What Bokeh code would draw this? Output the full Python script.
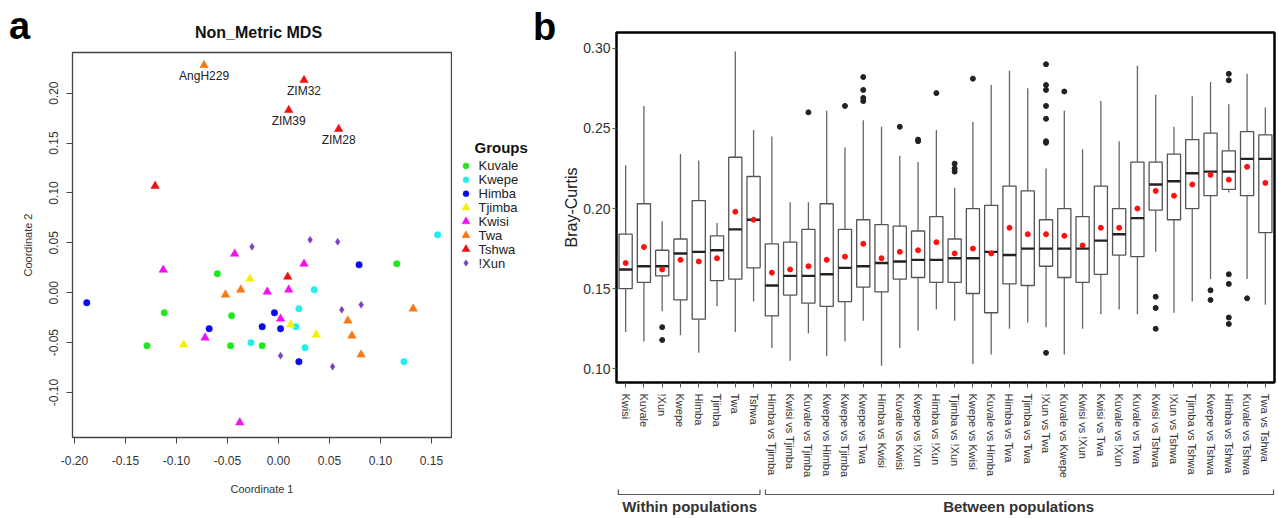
from bokeh.plotting import figure
from bokeh.models import (Range1d, FactorRange, FixedTicker, PrintfTickFormatter,
                          ColumnDataSource, LabelSet)
from bokeh.layouts import row, column
from bokeh.embed import file_html
from bokeh.resources import INLINE
from bokeh.core.properties import value

FONT = "Liberation Sans"

# ---------------- Panel a : Non-metric MDS ----------------
groups = ["Kuvale", "Kwepe", "Himba", "Tjimba", "Kwisi", "Twa", "Tshwa", "!Xun"]

kuvale_x = [-0.060, 0.116, -0.112, -0.046, -0.129, -0.047, -0.016]
kuvale_y = [0.019, 0.029, -0.020, -0.023, -0.053, -0.053, -0.053]
kwepe_x = [0.156, 0.035, 0.020, 0.017, -0.027, 0.026, 0.123]
kwepe_y = [0.058, 0.003, -0.016, -0.034, -0.050, -0.055, -0.069]
himba_x = [0.079, -0.188, -0.004, -0.068, -0.016, 0.002, 0.020]
himba_y = [0.028, -0.010, -0.020, -0.036, -0.034, -0.036, -0.069]
tjimba_x = [-0.028, 0.012, 0.037, -0.093]
tjimba_y = [0.014, -0.032, -0.042, -0.052]
kwisi_x = [-0.043, -0.113, 0.025, -0.011, 0.010, 0.002, -0.072, -0.038]
kwisi_y = [0.039, 0.023, 0.029, 0.001, 0.003, -0.026, -0.045, -0.130]
twa_x = [-0.073, -0.052, -0.037, 0.132, 0.068, 0.072, 0.081]
twa_y = [0.228, -0.002, 0.003, -0.016, -0.028, -0.043, -0.062]
tshwa_x = [0.025, 0.010, 0.059, -0.121, 0.009]
tshwa_y = [0.213, 0.183, 0.164, 0.107, 0.016]
xun_x = [0.031, 0.058, -0.026, 0.062, 0.081, 0.002, 0.053]
xun_y = [0.053, 0.051, 0.046, -0.017, -0.012, -0.063, -0.074]

point_names = ["AngH229", "ZIM32", "ZIM39", "ZIM28"]
point_names_x = [-0.073, 0.025, 0.010, 0.059]
point_names_y = [0.228, 0.213, 0.183, 0.164]

mds_x_ticks = [-0.20, -0.15, -0.10, -0.05, 0.00, 0.05, 0.10, 0.15]
mds_y_ticks = [-0.10, -0.05, 0.00, 0.05, 0.10, 0.15, 0.20]

group_x = [kuvale_x, kwepe_x, himba_x, tjimba_x, kwisi_x, twa_x, tshwa_x, xun_x]
group_y = [kuvale_y, kwepe_y, himba_y, tjimba_y, kwisi_y, twa_y, tshwa_y, xun_y]
group_colors = ["#1ee81e", "#22eeee", "#0a0aee", "#f2f200", "#f010f0", "#f57a14", "#ee1111", "#7e3fc4"]
group_markers = ["circle", "circle", "circle", "triangle", "triangle", "triangle", "triangle", "diamond"]
group_sizes = [6.5, 6.5, 6.5, 8.5, 8.5, 8.5, 8.5, 7]

TOTAL_H = 516


def blank(width, height, xr, yr):
    f = figure(width=width, height=height, title=None,
               x_range=Range1d(*xr), y_range=Range1d(*yr),
               output_backend="svg", toolbar_location=None,
               x_axis_location=None, y_axis_location=None, min_border=0)
    f.grid.visible = False
    f.outline_line_color = None
    f.background_fill_color = "white"
    f.border_fill_color = "white"
    return f


# header with panel letter and title (pixel layout coordinates, y downwards)
H1 = 50
h1 = blank(530, H1, (0, 530), (H1, 0))
h1.text(x=[8.5], y=[25], text=["a"], text_font=value(FONT), text_font_style="bold",
        text_font_size="38px", text_baseline="middle", text_align="left", text_color="black")
h1.text(x=[258], y=[32], text=["Non_Metric MDS"], text_font=value(FONT), text_font_style="bold",
        text_font_size="16px", text_baseline="middle", text_align="center", text_color="#111111")

p1 = figure(width=452, height=TOTAL_H - H1, title=None,
            x_range=Range1d(-0.202, 0.1696), y_range=Range1d(-0.145, 0.2407),
            output_backend="svg", toolbar_location=None,
            min_border_left=72, min_border_right=1, min_border_top=2, min_border_bottom=79)
p1.grid.visible = False
p1.outline_line_color = "#444444"
p1.outline_line_width = 1.3
p1.background_fill_color = "white"
p1.border_fill_color = "white"

for g, xs, ys, c, m, s in zip(groups, group_x, group_y, group_colors, group_markers, group_sizes):
    p1.scatter(xs, ys, marker=m, size=s, fill_color=c, line_color=c, line_width=0.5)

src_names = ColumnDataSource(dict(x=point_names_x, y=point_names_y, t=point_names))
p1.add_layout(LabelSet(x="x", y="y", text="t", source=src_names, y_offset=-11,
                       text_align="center", text_baseline="middle",
                       text_font=value(FONT), text_font_size="12px", text_color="#222222"))

for ax in (p1.xaxis[0], p1.yaxis[0]):
    ax.axis_line_color = None
    ax.major_tick_line_color = "#444444"
    ax.major_tick_out = 6
    ax.major_tick_in = 0
    ax.minor_tick_line_color = None
    ax.major_label_text_font = FONT
    ax.major_label_text_font_size = "12px"
    ax.major_label_text_color = "#333333"
    ax.axis_label_text_font = FONT
    ax.axis_label_text_font_size = "11px"
    ax.axis_label_text_font_style = "normal"
    ax.axis_label_text_color = "#333333"
    ax.formatter = PrintfTickFormatter(format="%.2f")

p1.xaxis.ticker = FixedTicker(ticks=mds_x_ticks)
p1.yaxis.ticker = FixedTicker(ticks=mds_y_ticks)
p1.xaxis.axis_label = "Coordinate 1"
p1.yaxis.axis_label = "Coordinate 2"
p1.xaxis.major_label_standoff = 12
p1.xaxis.axis_label_standoff = 15
p1.yaxis.major_label_orientation = "vertical"
p1.yaxis.major_label_standoff = 8
p1.yaxis.axis_label_standoff = 13

# legend drawn in its own small figure right of the MDS frame (pixel layout coordinates)
leg = blank(78, TOTAL_H - H1, (452, 530), (TOTAL_H, H1))
leg_step = 16.8
leg_y = [187.3 + i * leg_step for i in range(len(groups))]
leg_sizes = [6, 6, 6, 8, 8, 8, 8, 6.5]
for g, c, m, s, yy in zip(groups, group_colors, group_markers, leg_sizes, leg_y):
    leg.scatter([465.5], [yy], marker=m, size=s, fill_color=c, line_color=c, line_width=0.5)
leg.text(x=[478] * len(groups), y=leg_y, text=groups, text_font=value(FONT),
         text_font_size="13px", text_baseline="middle", text_align="left", text_color="#222222")
leg.text(x=[474], y=[165], text=["Groups"], text_font=value(FONT), text_font_style="bold",
         text_font_size="15px", text_baseline="middle", text_align="left", text_color="#111111")

# ---------------- Panel b : Bray-Curtis boxplots ----------------
within_labels = ["Kwisi", "Kuvale", "!Xun", "Kwepe", "Himba", "Tjimba", "Twa", "Tshwa"]
between_labels = ["Himba vs Tjimba", "Kwisi vs Tjimba", "Kuvale vs Tjimba", "Kwepe vs Himba",
                  "Kwepe vs Tjimba", "Kwepe vs Twa", "Himba vs Kwisi", "Kuvale vs Kwisi",
                  "Kwepe vs !Xun", "Himba vs !Xun", "Tjimba vs !Xun", "Kwepe vs Kwisi",
                  "Kuvale vs Himba", "Himba vs Twa", "Tjimba vs Twa", "!Xun vs Twa",
                  "Kuvale vs Kwepe", "Kwisi vs !Xun", "Kwisi vs Twa", "Kuvale vs !Xun",
                  "Kuvale vs Twa", "Kwisi vs Tshwa", "!Xun vs Tshwa", "Tjimba vs Tshwa",
                  "Kwepe vs Tshwa", "Himba vs Tshwa", "Kuvale vs Tshwa", "Twa vs Tshwa"]
cats = within_labels + between_labels

whisker_hi = [0.227, 0.264, 0.192, 0.234, 0.230, 0.191, 0.298, 0.249,
              0.245, 0.204, 0.204, 0.261, 0.238, 0.255, 0.251, 0.233, 0.229, 0.249,
              0.213, 0.254, 0.277, 0.286, 0.275, 0.225, 0.261, 0.237, 0.267, 0.242,
              0.289, 0.271, 0.251, 0.270, 0.279, 0.265, 0.284, 0.263]
q3 = [0.184, 0.203, 0.174, 0.181, 0.205, 0.183, 0.232, 0.220,
      0.178, 0.179, 0.187, 0.203, 0.187, 0.193, 0.190, 0.189, 0.186, 0.195,
      0.181, 0.200, 0.202, 0.214, 0.211, 0.193, 0.200, 0.195, 0.214, 0.200,
      0.229, 0.229, 0.234, 0.243, 0.247, 0.236, 0.248, 0.246]
median = [0.162, 0.164, 0.164, 0.172, 0.173, 0.174, 0.187, 0.193,
          0.152, 0.158, 0.158, 0.159, 0.163, 0.164, 0.166, 0.167, 0.168, 0.168,
          0.169, 0.169, 0.173, 0.171, 0.175, 0.175, 0.175, 0.175, 0.180, 0.184,
          0.194, 0.215, 0.217, 0.222, 0.223, 0.223, 0.231, 0.231]
mean = [0.166, 0.176, 0.162, 0.168, 0.167, 0.169, 0.198, 0.193,
        0.160, 0.162, 0.164, 0.168, 0.170, 0.178, 0.169, 0.173, 0.174, 0.179,
        0.172, 0.175, 0.172, 0.188, 0.184, 0.184, 0.183, 0.177, 0.188, 0.188,
        0.200, 0.211, 0.208, 0.215, 0.221, 0.218, 0.226, 0.216]
q1 = [0.150, 0.154, 0.158, 0.143, 0.131, 0.155, 0.156, 0.163,
      0.133, 0.146, 0.141, 0.139, 0.142, 0.151, 0.148, 0.156, 0.157, 0.154,
      0.154, 0.147, 0.135, 0.153, 0.152, 0.164, 0.157, 0.154, 0.159, 0.171,
      0.170, 0.199, 0.193, 0.200, 0.208, 0.212, 0.208, 0.185]
whisker_lo = [0.123, 0.117, 0.136, 0.121, 0.110, 0.139, 0.123, 0.142,
              0.113, 0.105, 0.122, 0.108, 0.117, 0.130, 0.102, 0.113, 0.124, 0.137,
              0.130, 0.103, 0.109, 0.125, 0.129, 0.126, 0.109, 0.125, 0.134, 0.137,
              0.134, 0.173, 0.135, 0.142, 0.156, 0.210, 0.156, 0.140]
outliers = {
    "!Xun": [0.126, 0.118],
    "Kuvale vs Tjimba": [0.260],
    "Kwepe vs Tjimba": [0.264],
    "Kwepe vs Twa": [0.282, 0.274, 0.269, 0.267],
    "Kuvale vs Kwisi": [0.251],
    "Kwepe vs !Xun": [0.243, 0.242],
    "Himba vs !Xun": [0.272],
    "Tjimba vs !Xun": [0.228, 0.225, 0.223],
    "Kwepe vs Kwisi": [0.281],
    "!Xun vs Twa": [0.290, 0.277, 0.274, 0.264, 0.256, 0.242, 0.241, 0.110],
    "Kuvale vs Kwepe": [0.273],
    "Kwisi vs Tshwa": [0.145, 0.138, 0.125],
    "Kwepe vs Tshwa": [0.149, 0.143],
    "Himba vs Tshwa": [0.284, 0.280, 0.159, 0.153, 0.132, 0.128],
    "Kuvale vs Tshwa": [0.144],
}
bc_ticks = [0.10, 0.15, 0.20, 0.25, 0.30]

# panel letter b
bfig = blank(26, TOTAL_H, (530, 556), (TOTAL_H, 0))
bfig.text(x=[532.5], y=[26], text=["b"], text_font=value(FONT), text_font_style="bold",
          text_font_size="38px", text_baseline="middle", text_align="left", text_color="black")

P2_H = 488
p2 = figure(width=720, height=P2_H, title=None,
            x_range=FactorRange(factors=cats), y_range=Range1d(0.0915, 0.3098),
            output_backend="svg", toolbar_location=None,
            min_border_left=60, min_border_right=2, min_border_top=32, min_border_bottom=106)
p2.grid.visible = False
p2.outline_line_color = "black"
p2.outline_line_width = 2.5
p2.background_fill_color = "white"
p2.border_fill_color = "white"

BOX_W = 0.72
p2.segment(x0=cats, y0=q3, x1=cats, y1=whisker_hi, line_color="#666666", line_width=1.3)
p2.segment(x0=cats, y0=q1, x1=cats, y1=whisker_lo, line_color="#666666", line_width=1.3)
p2.vbar(x=cats, top=q3, bottom=q1, width=BOX_W, fill_color="white",
        line_color="#555555", line_width=1.3)
p2.rect(x=cats, y=median, width=BOX_W, height=2.4, height_units="screen",
        fill_color="#222222", line_color=None)
out_x = [c for c in cats for v in outliers.get(c, [])]
out_y = [v for c in cats for v in outliers.get(c, [])]
p2.scatter(out_x, out_y, size=5, fill_color="#222222", line_color="#222222")
p2.scatter(cats, mean, size=5, fill_color="#ff1010", line_color="#ff1010")

xa = p2.xaxis[0]
xa.axis_line_color = None
xa.major_label_orientation = "vertical"
xa.major_label_text_font = FONT
xa.major_label_text_font_size = "11px"
xa.major_label_text_color = "#333333"
xa.major_tick_line_color = "#555555"
xa.major_tick_out = 5
xa.major_tick_in = 0
xa.major_label_standoff = 6
xa.minor_tick_line_color = None

ya = p2.yaxis[0]
ya.axis_line_color = None
ya.ticker = FixedTicker(ticks=bc_ticks)
ya.formatter = PrintfTickFormatter(format="%.2f")
ya.major_label_text_font = FONT
ya.major_label_text_font_size = "14px"
ya.major_label_text_color = "#333333"
ya.major_tick_line_color = "#555555"
ya.major_tick_out = 4
ya.major_tick_in = 0
ya.minor_tick_line_color = None
ya.major_label_standoff = 2
ya.axis_label = "Bray-Curtis"
ya.axis_label_text_font = FONT
ya.axis_label_text_font_size = "16px"
ya.axis_label_text_font_style = "normal"
ya.axis_label_text_color = "#222222"
ya.axis_label_standoff = 0

# ---------------- group brackets under panel b ----------------
n_within = len(within_labels)
n_total = len(cats)
p3 = figure(width=720, height=TOTAL_H - P2_H, title=None,
            x_range=Range1d(0, n_total), y_range=Range1d(TOTAL_H, P2_H),
            output_backend="svg", toolbar_location=None,
            x_axis_location=None, y_axis_location=None,
            min_border_left=60, min_border_right=2, min_border_top=0, min_border_bottom=0)
p3.grid.visible = False
p3.outline_line_color = None
p3.background_fill_color = "white"
p3.border_fill_color = "white"

bx0 = [0.1, n_within + 0.15]
bx1 = [n_within - 0.15, n_total - 0.05]
p3.multi_line(xs=[[a, a, b, b] for a, b in zip(bx0, bx1)],
              ys=[[489, 494, 494, 489] for _ in bx0], line_color="#555555", line_width=1.2)
p3.text(x=[n_within / 2, (n_within + n_total) / 2], y=[506, 506],
        text=["Within populations", "Between populations"],
        text_align="center", text_baseline="middle", text_font=value(FONT),
        text_font_style="bold", text_font_size="15px", text_color="#333333")

left = column(h1, row(p1, leg, spacing=0), spacing=0)
right = column(p2, p3, spacing=0)
layout = row(left, bfig, right, spacing=0)
open("out.html", "w").write(file_html(layout, INLINE))
